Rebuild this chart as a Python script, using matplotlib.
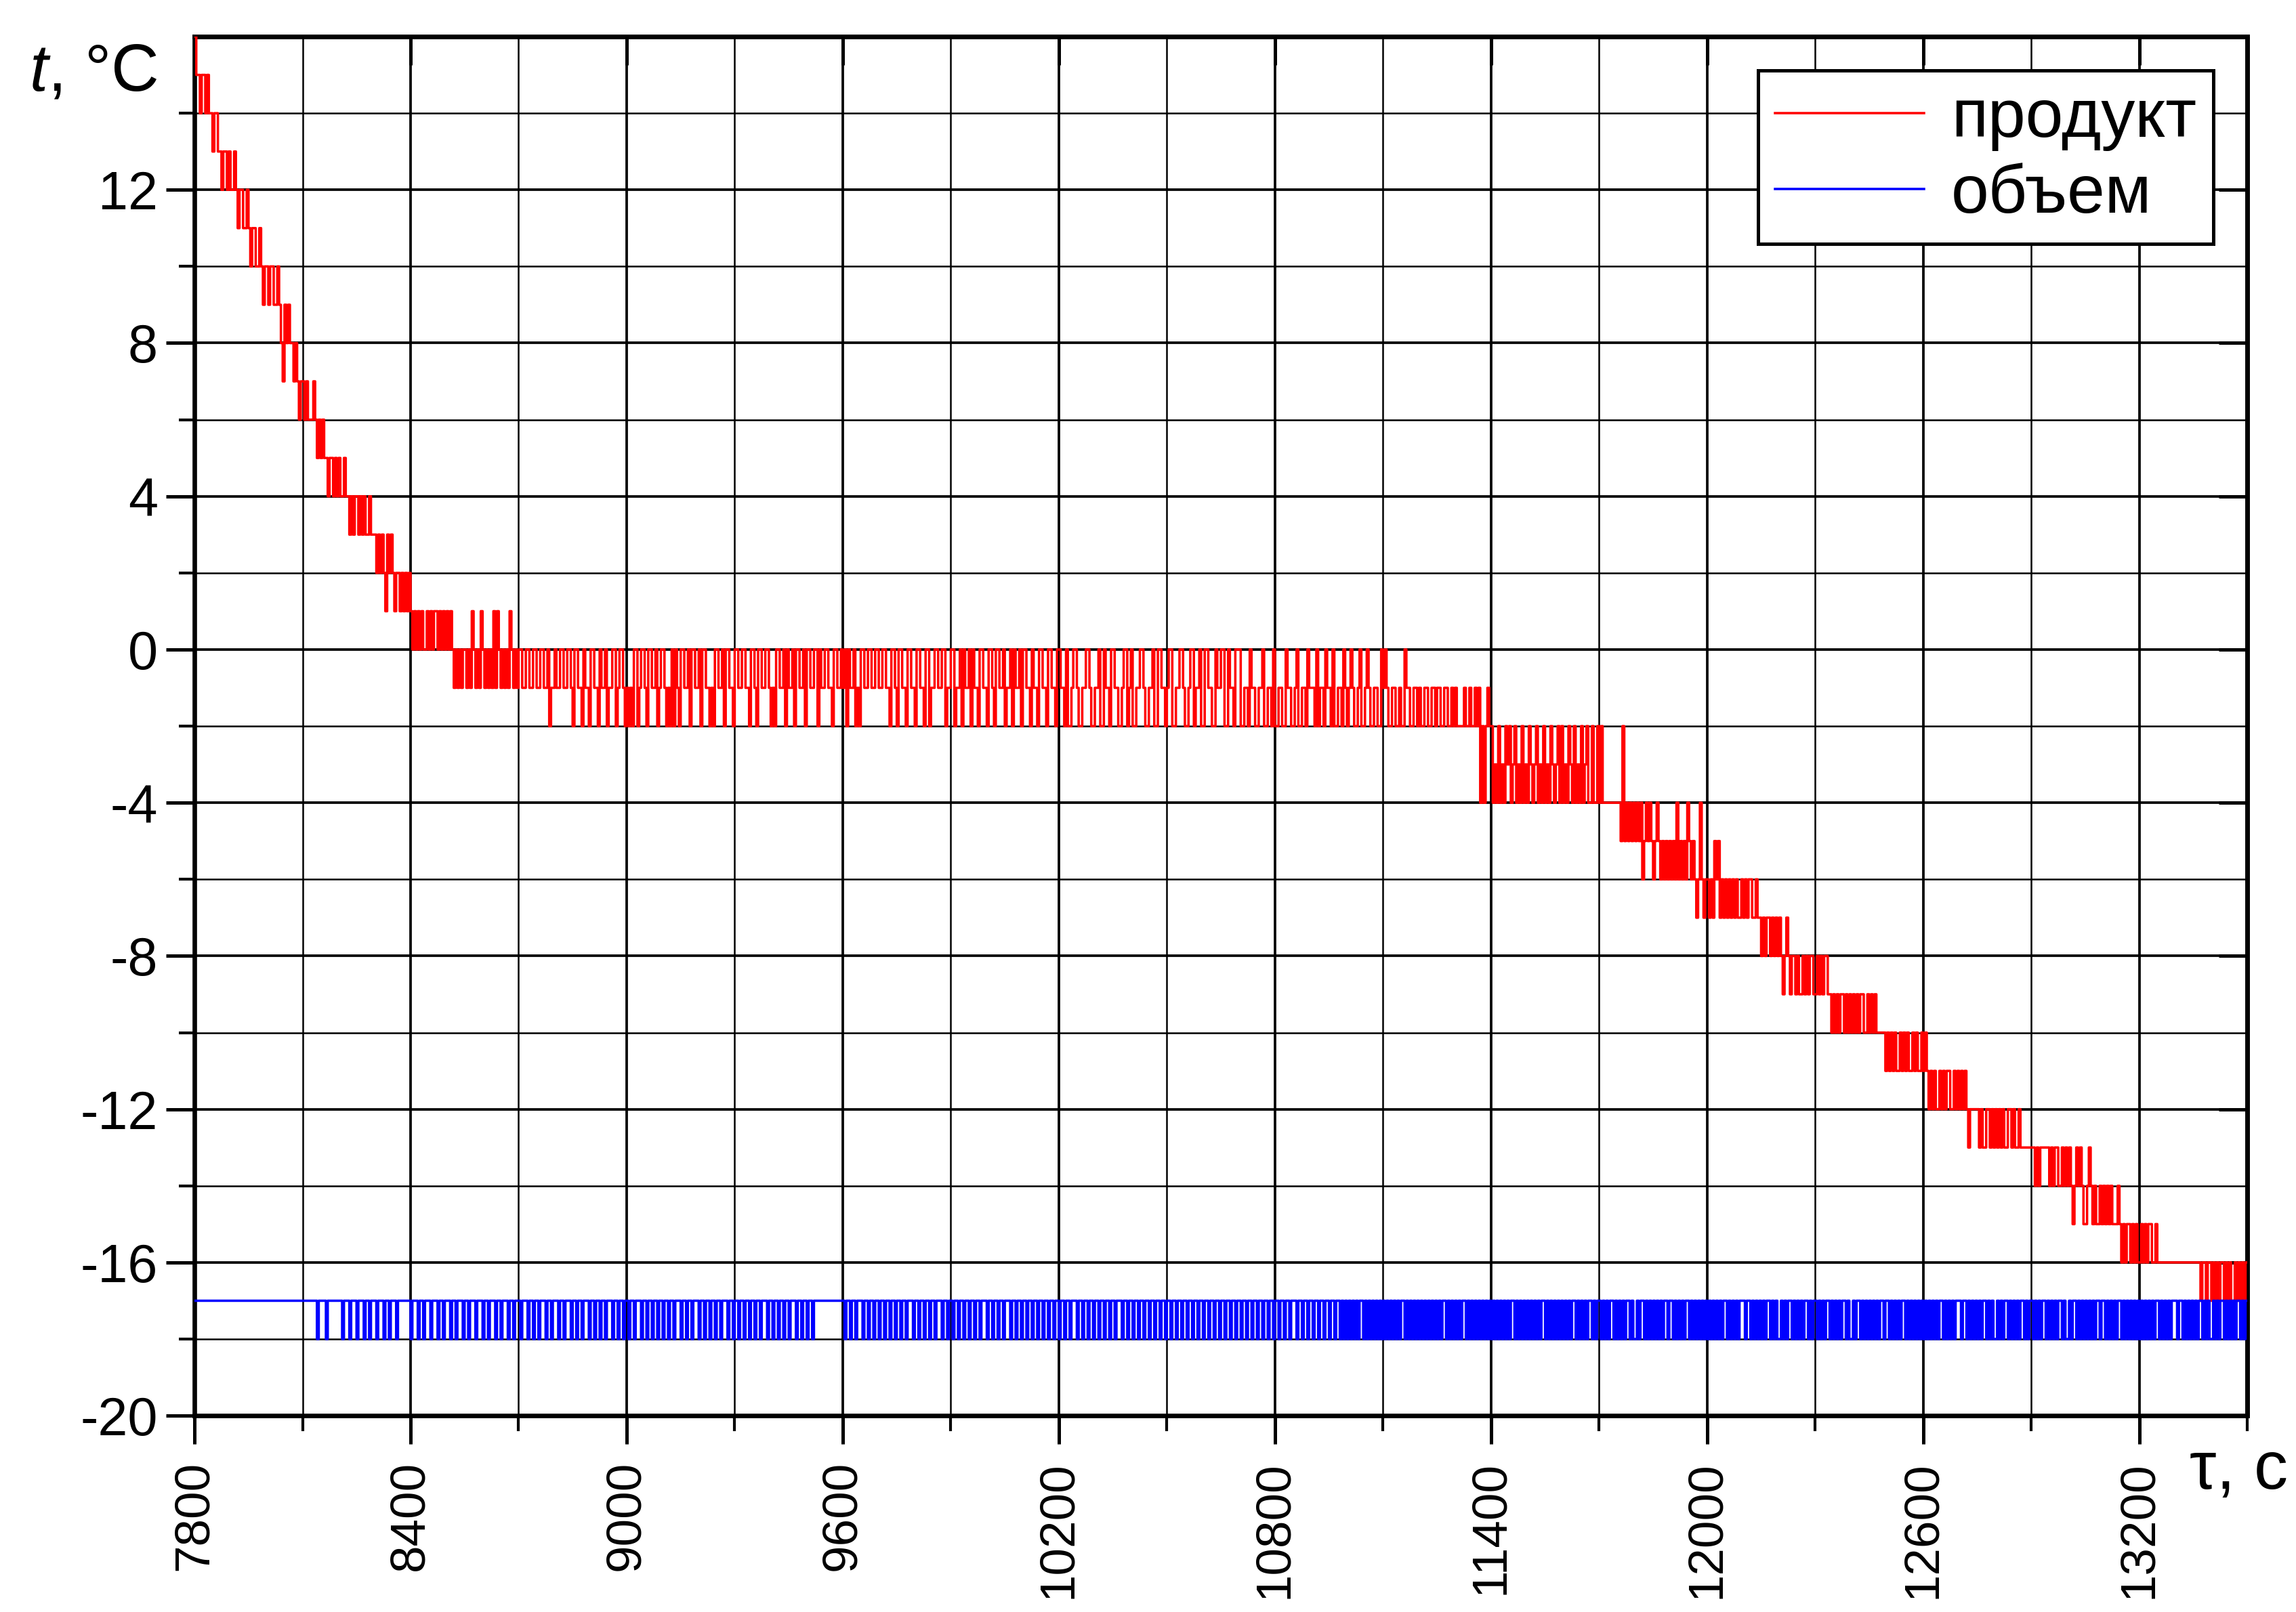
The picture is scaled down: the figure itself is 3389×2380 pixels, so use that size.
import numpy as np
import matplotlib.pyplot as plt
from matplotlib.ticker import MultipleLocator, FixedLocator

plt.rcParams['font.family'] = ['Liberation Sans', 'DejaVu Sans']
plt.rcParams['axes.unicode_minus'] = False
plt.rcParams['mathtext.fontset'] = 'custom'
plt.rcParams['mathtext.it'] = 'Liberation Sans:italic'
plt.rcParams['mathtext.rm'] = 'Liberation Sans'

# ── данные (отсчёты через 5 с, начиная с 7800 с) ──────────
T0, DT, T_END = 7800, 5, 13500

# 7800 ... 8395 с : температура продукта, °C
red_head = [16, 15, 15, 14, 15, 15, 14, 15, 14, 14, 13, 14, 14, 13, 13, 12, 13, 13, 12, 13,
            12, 12, 13, 12, 11, 12, 12, 11, 11, 12, 11, 10, 11, 11, 10, 10, 11, 10, 9, 10,
            10, 9, 10, 10, 9, 9, 10, 9, 8, 7, 9, 8, 9, 8, 8, 7, 8, 7, 6, 7,
            7, 6, 7, 6, 6, 6, 7, 6, 5, 6, 5, 6, 5, 5, 4, 5, 5, 4, 5, 4,
            5, 4, 4, 5, 4, 4, 3, 4, 3, 4, 4, 3, 4, 3, 4, 3, 3, 4, 3, 3,
            3, 2, 3, 2, 3, 2, 1, 3, 2, 3, 2, 1, 2, 2, 1, 2, 1, 2, 1, 2]

# далее: (верхний уровень, строки отклонений вниз от него, по 100 с)
red_pieces = [
    (1, ["01010101101010010101", "01012121211212012120", "12121202012121201212"]),  # 8400-8695
    (0, ["00110011001100110211", "01100110012001120112", "00112011021100210012",
         "12120021001200110210", "01212020120011020011", "02001121200110200112",
         "00110011200120011001", "21200110201102001102", "00110020110011200110",
         "10201102120011001100", "11001120012001120011", "20011200211001100211",
         "00211020110201120011", "20012001102110201102", "00112011200112001120"]),  # 8700-10195
    (0, ["01120221001221100122", "11022011200112210021", "02211001221102200112",
         "10022110012210021102", "20011220110022011200", "02211201122110221120",
         "22112201122102211201", "11202112011202211201", "21012210221012211220",
         "10122112212201122112", "12211221121122112212", "12222122122121424212"]),  # 10200-11395
    (-2, ["02120212010210212021", "20121021202120121020", "21201202120210220220",
          "20222222222230323232", "32324323234323434343", "43424343423434542454"]),  # 11400-11995
    (-5, ["12120102121212121221", "21211221223232232323", "23432343343443434334",
          "43434334454545445454", "54545445545454555556", "56565665656566565665",
          "65676767767676677676"]),                                              # 12000-12695
    (-11, ["10101211111212211212", "12121221121221222222", "22323222223232233232",
           "32343232344323434434", "34343444345454454545", "54545445545555555555",
           "55555555555555655655", "65656556565665656565"]),                     # 12700-13495
]

# объем: 0 -> -17 °C, 1 -> -18 °C (по 100 с в строке)
blue_bits = [
    "00000000000000000000", "00000000000000000000", "00000000000000000000",
    "00000000100001000000", "00100010001000100100", "01000100100010000000",
    "10001001000100010010", "00100100010010001000", "10010001001000100100",
    "01000100100100010010", "00100100010010010001", "00100100100010010010",
    "01001000100100100100", "10010010001001001000", "10010010010010001001",
    "00100100100100100010", "01001001001000100100", "10010000000000000000",
    "01001001000100100100", "10010010010010010001", "00100100100100010010",
    "01001001001001001000", "10010010010001001001", "00100100100100100100",
    "10010010001001001001", "00100100100100010010", "01001001001001001001",
    "00100100100100100100", "10010010010010010010", "01001001001001001001",
    "00100100100010010010", "01001001001001001010",
    "10101010010101010101", "01010101010010101010", "10101010101010010101",
    "01010010101010101010", "10101010101001010101", "01010101001010101010",
    "10101001010101001010", "01010100101010100101", "10100101010101010010",
    "01010101001010101010", "10101010100101010100", "01001010101010010101",
    "10101001010101001010", "01010100101010100101", "10100101010101010010",
    "01010101001010101010", "10101010100101010100", "01001010101010010101",
    "10101001010101001010", "01010100101010100101", "10100101010101010010",
    "01010101001010101010", "10101010100101010100", "01001010101010010101",
    "10101001010101001010",
]
blue_top = -17

red_label = "продукт"
blue_label = "объем"

# ── сборка рядов ──────────────────────────────────────────
red = list(red_head)
for top, chunks in red_pieces:
    red += [top - int(c) for c in "".join(chunks)]
blue = [blue_top - int(c) for c in "".join(blue_bits)]

t = T0 + DT * np.arange(len(red))
t = np.append(t, T_END)
red = np.append(red, red[-1])
blue = np.append(blue, blue[-1])

# ── рисунок ───────────────────────────────────────────────
fig = plt.figure(figsize=(3389 / 300, 2380 / 300), dpi=300)
ax = fig.add_axes([0.0847, 0.1218, 0.8941, 0.8555])

ax.plot(t, red, drawstyle="steps-post", color="#ff0000", lw=0.85, label=red_label, zorder=3)
ax.plot(t, blue, drawstyle="steps-post", color="#0000ff", lw=0.85, label=blue_label, zorder=3)

ax.set_xlim(7800, 13500)
ax.set_ylim(-20, 16)

ax.xaxis.set_major_locator(MultipleLocator(600))
ax.xaxis.set_minor_locator(FixedLocator(np.arange(8100, 13501, 600)))
ax.yaxis.set_major_locator(FixedLocator(np.arange(-20, 13, 4)))
ax.yaxis.set_minor_locator(FixedLocator(np.arange(-18, 15, 4)))

ax.grid(which="major", color="k", lw=0.9, zorder=1)
ax.grid(which="minor", color="k", lw=0.6, zorder=1)

ax.tick_params(which="major", direction="out", length=10, width=1.2, color="k")
ax.tick_params(which="minor", direction="out", length=5.5, width=1.0, color="k")
ax.tick_params(axis="x", which="major", labelsize=17.5, labelrotation=90, pad=6)
ax.tick_params(axis="y", which="major", labelsize=19, pad=3)

for s in ax.spines.values():
    s.set_linewidth(1.6)

# внутренние риски сверху и справа
secx = ax.secondary_xaxis("top")
secx.set_xticks(np.arange(8400, 13201, 600))
secx.tick_params(direction="in", length=10, width=1.2, labeltop=False)
secx.spines["top"].set_linewidth(1.6)
secy = ax.secondary_yaxis("right")
secy.set_yticks(np.arange(-16, 13, 4))
secy.tick_params(direction="in", length=10, width=1.2, labelright=False)
secy.spines["right"].set_linewidth(1.6)

leg = ax.legend(loc="upper right", fontsize=24, frameon=True, fancybox=False,
                edgecolor="k", framealpha=1, handlelength=2.2, handletextpad=0.4,
                borderpad=0.25, borderaxespad=0.5, labelspacing=0.18)
leg.get_frame().set_linewidth(1.2)
leg.set_zorder(5)

fig.text(43 / 3389, 1 - 134 / 2380, r"$t$, °C", fontsize=23.5, ha="left", va="baseline")
fig.text(3232 / 3389, 1 - 2172 / 2380, "τ, с", fontsize=24, ha="left", va="center")

fig.savefig("out.png", dpi=300)
